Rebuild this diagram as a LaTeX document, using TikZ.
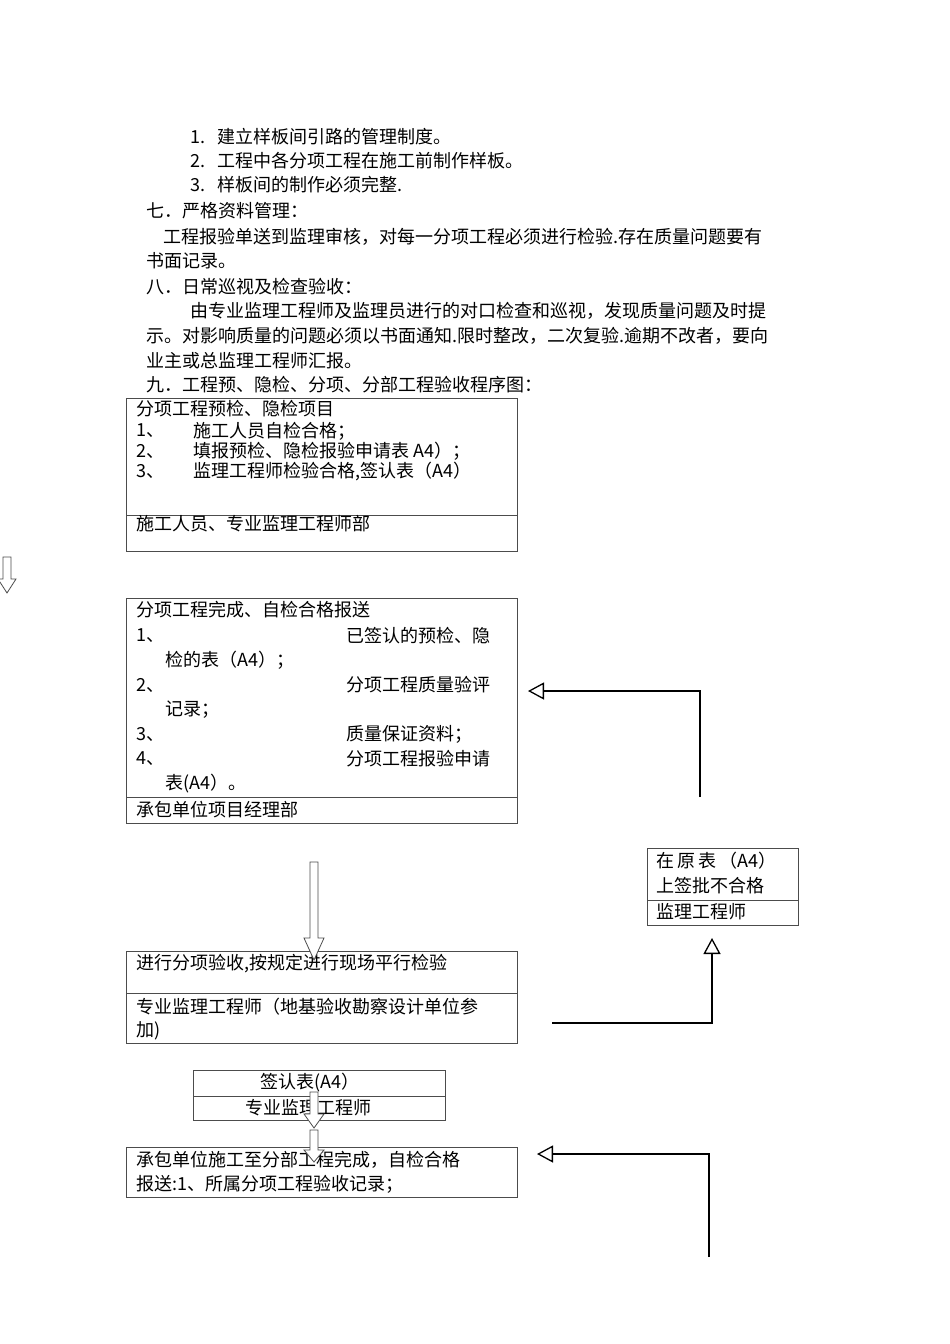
\documentclass[tikz,border=0pt]{standalone}
\usepackage{fontspec}
\setmainfont{Noto Sans CJK SC}
\usetikzlibrary{arrows.meta}
\begin{document}
\begin{tikzpicture}[x=1pt,y=-1pt,
  t/.style={anchor=west,inner sep=0pt,font=\fontsize{18}{20}\selectfont},
  tc/.style={inner sep=0pt,font=\fontsize{18}{20}\selectfont},
  bx/.style={draw=black!70,line width=0.8pt},
  ln/.style={line width=1.3pt},
  oh/.style={-{Triangle[open,length=16pt,width=17pt]},line width=1.3pt},
  block/.style={draw=black!70,fill=white,line width=0.8pt}]
\useasboundingbox (0,0) rectangle (950,1344);
\node[t] (l1) at (190,137) {1.\hspace{12pt}建立样板间引路的管理制度。};
\node[t] (l2) at (190,161) {2.\hspace{12pt}工程中各分项工程在施工前制作样板。};
\node[t] (l3) at (190,185) {3.\hspace{12pt}样板间的制作必须完整.};
\node[t] (l4) at (146,211) {七．严格资料管理：};
\node[t] (l5) at (163,237) {工程报验单送到监理审核，对每一分项工程必须进行检验.存在质量问题要有};
\node[t] (l6) at (146,261) {书面记录。};
\node[t] (l7) at (146,287) {八．日常巡视及检查验收：};
\node[t] (l8) at (190,311) {由专业监理工程师及监理员进行的对口检查和巡视，发现质量问题及时提};
\node[t] (l9) at (146,336) {示。对影响质量的问题必须以书面通知.限时整改，二次复验.逾期不改者，要向};
\node[t] (l10) at (146,361) {业主或总监理工程师汇报。};
\node[t] (l11) at (146,385) {九．工程预、隐检、分项、分部工程验收程序图：};
% box1
\draw[bx] (126,398) rectangle (517,551); \draw[bx] (126,515) -- (517,515);
\node[t] (b1a) at (136,409) {分项工程预检、隐检项目};
\node[t] (b1b) at (136,431) {1、}; \node[t] (b1c) at (193,431) {施工人员自检合格；};
\node[t] (b1d) at (136,451) {2、}; \node[t] (b1e) at (193,451) {填报预检、隐检报验申请表 A4）；};
\node[t] (b1f) at (136,471) {3、}; \node[t] (b1g) at (193,471) {监理工程师检验合格,签认表（A4）};
\node[t] (b1h) at (136,524) {施工人员、专业监理工程师部};
% left arrow
\draw[block] (3,557) -- (11,557) -- (11,579) -- (16,579) -- (7,593) -- (-2,579) -- (3,579) -- cycle;
% box2
\draw[bx] (126,598) rectangle (517,823); \draw[bx] (126,797) -- (517,797);
\node[t] (b2a) at (136,610) {分项工程完成、自检合格报送};
\node[t] at (136,636) {1、}; \node[t] at (346,636) {已签认的预检、隐};
\node[t] at (165,660) {检的表（A4）；};
\node[t] at (136,685) {2、}; \node[t] at (346,685) {分项工程质量验评};
\node[t] at (165,710) {记录；};
\node[t] at (136,734) {3、}; \node[t] at (346,734) {质量保证资料；};
\node[t] at (136,759) {4、}; \node[t] at (346,759) {分项工程报验申请};
\node[t] at (165,784) {表(A4）。};
\node[t] at (136,810) {承包单位项目经理部};
% right box
\draw[bx] (647,848) rectangle (798,925); \draw[bx] (647,900) -- (798,900);
\node[t] (r1) at (656,861) {在\,原\,表\,（A4）};
\node[t] (r2) at (656,886) {上签批不合格};
\node[t] (r3) at (656,912) {监理工程师};
\coordinate (p1) at (700,797); \coordinate (p2) at (528,691);
\draw[oh] (p1) |- (p2);
% box3
\draw[bx] (126,951) rectangle (517,1043); \draw[bx] (126,993) -- (517,993);
\node[t] at (136,964) {进行分项验收,按规定进行现场平行检验};
\node[t] at (136,1007) {专业监理工程师（地基验收勘察设计单位参};
\node[t] at (136,1031) {加)};
\coordinate (q1) at (552,1023); \coordinate (q2) at (712,938);
\draw[oh] (q1) -| (q2);
% box4
\draw[bx] (193,1070) rectangle (445,1120); \draw[bx] (193,1096) -- (445,1096);
\node[tc] at (310,1083) {签认表(A4）};
\node[tc] at (308,1108) {专业监理工程师};
% box5
\draw[bx] (126,1147) rectangle (517,1197);
\node[t] at (136,1160) {承包单位施工至分部工程完成，自检合格};
\node[t] at (136,1184) {报送:1、所属分项工程验收记录；};
\coordinate (s1) at (709,1257); \coordinate (s2) at (537,1154);
\draw[oh] (s1) |- (s2);
% block arrows
\draw[block] (310,862) -- (318,862) -- (318,938) -- (324,938) -- (314,960) -- (304,938) -- (310,938) -- cycle;
\draw[block] (310,1092) -- (318,1092) -- (318,1114) -- (324,1114) -- (314,1128) -- (304,1114) -- (310,1114) -- cycle;
\draw[block] (310,1130) -- (318,1130) -- (318,1150) -- (324,1150) -- (314,1162) -- (304,1150) -- (310,1150) -- cycle;
\end{tikzpicture}
\end{document}
